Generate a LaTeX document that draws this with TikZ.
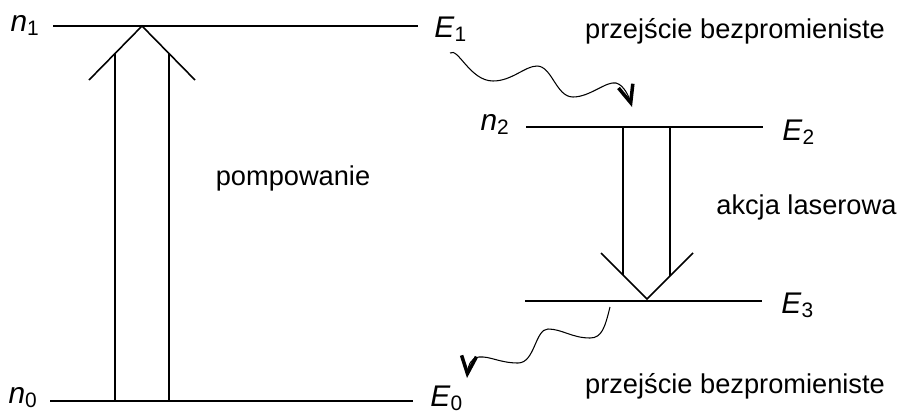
\documentclass[tikz,border=0pt]{standalone}
\usepackage{fontspec}
\setmainfont{Liberation Sans}
\usetikzlibrary{arrows.meta}

\tikzset{
	enlevel/.style={line width=1.5pt},
	bigarrow/.style={line width=0.9pt},
	wavyarrow/.style={line width=0.6pt,-{Straight Barb[length=10pt,width=8.5pt,line width=2pt]}},
	lbl/.style={inner sep=0pt,font=\fontsize{15.5}{18}\selectfont},
	lvllbl/.style={inner sep=0pt,font=\fontsize{17}{20}\selectfont},
}

\begin{document}
\begin{tikzpicture}[x=0.02cm,y=0.02cm]
		\useasboundingbox (0,0) rectangle (901,414);
		
		% poziomy energetyczne
		\coordinate (n1a) at (53,388);
		\coordinate (n1b) at (418,388);
		\coordinate (n0a) at (50,13);
		\coordinate (n0b) at (413,13);
		\coordinate (n2a) at (526,287);
		\coordinate (n2b) at (763,287);
		\coordinate (e3a) at (525,113);
		\coordinate (e3b) at (762,113);
		\draw[enlevel] (n1a) -- (n1b);
		\draw[enlevel] (n0a) -- (n0b);
		\draw[enlevel] (n2a) -- (n2b);
		\draw[enlevel] (e3a) -- (e3b);
		
		\node[lvllbl,anchor=base east] (ln1) at (40,383) {\textit{n}\textsubscript{1}};
		\node[lvllbl,anchor=base west] (le1) at (434,377) {\textit{E}\textsubscript{1}};
		\node[lvllbl,anchor=base east] (ln0) at (38,11) {\textit{n}\textsubscript{0}};
		\node[lvllbl,anchor=base west] (le0) at (430,8) {\textit{E}\textsubscript{0}};
		\node[lvllbl,anchor=base east] (ln2) at (510,284) {\textit{n}\textsubscript{2}};
		\node[lvllbl,anchor=base west] (le2) at (782,274) {\textit{E}\textsubscript{2}};
		\node[lvllbl,anchor=base west] (le3) at (781,101) {\textit{E}\textsubscript{3}};
		
		\node[lbl,anchor=base] (pomp) at (293,229) {pompowanie};
		\node[lbl,anchor=base west] (akcja) at (716,200) {akcja laserowa};
		\node[lbl,anchor=base] (bez1) at (735,376) {przejście bezpromieniste};
		\node[lbl,anchor=base] (bez2) at (735,21) {przejście bezpromieniste};
		
		% pompowanie
		\draw[bigarrow] (89,334) -- (142,388) -- (195,334);
		\draw[bigarrow] (115,13) -- (115,361);
		\draw[bigarrow] (169,13) -- (169,361);
		
		% akcja laserowa
		\draw[bigarrow] (601,161) -- (647,115) -- (693,161);
		\draw[bigarrow] (623,287) -- (623,139);
		\draw[bigarrow] (670,287) -- (670,138);
		
		% przejscia bezpromieniste
		\coordinate (w1s) at (450,361);
		\coordinate (w1e) at (632,307);
		\draw[wavyarrow] (w1s) .. controls (458,367) and (470,333) .. (493,333)
			.. controls (512,333) and (525,348) .. (537,348)
			.. controls (552,348) and (556,317) .. (573,317)
			.. controls (590,317) and (606,333) .. (616,331)
			.. controls (624,329) and (629,317) .. (w1e);
		
		\coordinate (w2s) at (610,107);
		\coordinate (w2e) at (467,36);
		\draw[wavyarrow] (w2s) .. controls (605,87) and (602,76) .. (590,76)
			.. controls (572,76) and (562,85) .. (548,85)
			.. controls (535,85) and (535,51) .. (518,51)
			.. controls (500,51) and (490,58) .. (479,57)
			.. controls (470,56) and (468,47) .. (w2e);
		
		\end{tikzpicture}
\end{document}
